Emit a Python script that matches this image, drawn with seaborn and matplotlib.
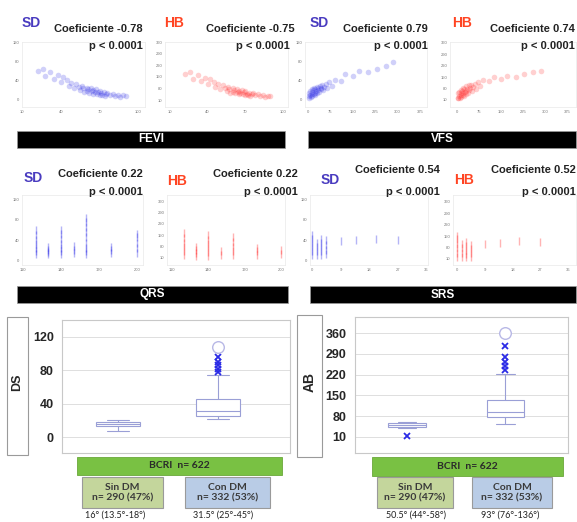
import numpy as np
import pandas as pd
import matplotlib.pyplot as plt
import seaborn as sns
from matplotlib.patches import Rectangle

# --- datos de dispersion (leidos aprox. de la figura) ---
fevi_x = [22, 26, 28, 32, 35, 38, 40, 42, 45, 46, 48, 50, 52, 54, 55, 56, 57, 58, 60, 60,
          61, 62, 63, 64, 65, 65, 66, 67, 68, 69, 70, 70, 71, 72, 73, 74, 75, 76, 78, 80,
          82, 84, 86, 88, 90]
sd_fevi = [60, 66, 50, 58, 44, 52, 38, 48, 42, 30, 36, 26, 34, 28, 20, 30, 24, 16, 26, 18,
           22, 14, 24, 18, 12, 20, 16, 22, 13, 17, 10, 19, 14, 11, 16, 9, 13, 15, 10, 12,
           8, 11, 7, 10, 8]
hb_fevi = [165, 180, 140, 160, 125, 145, 110, 135, 120, 90, 105, 80, 100, 85, 65, 92, 75, 55, 82, 60,
           70, 50, 78, 58, 45, 68, 52, 72, 46, 56, 40, 62, 48, 42, 54, 36, 46, 50, 38, 44,
           32, 40, 30, 36, 32]

vfs_x = [2, 5, 5, 8, 8, 10, 12, 12, 15, 15, 18, 20, 20, 22, 25, 25, 28, 30, 30, 32,
         35, 38, 40, 42, 45, 48, 50, 55, 60, 65, 70, 80, 90, 110, 125, 150, 170, 200, 230, 260, 285]
sd_vfs = [8, 5, 14, 10, 18, 6, 12, 22, 9, 16, 20, 12, 26, 15, 10, 22, 18, 14, 28, 20,
          24, 16, 30, 22, 26, 32, 20, 28, 34, 25, 38, 30, 42, 40, 55, 50, 60, 58, 66, 72, 80]
hb_vfs = [25, 20, 50, 35, 60, 22, 40, 70, 30, 55, 65, 40, 85, 50, 35, 75, 60, 45, 95, 65,
          80, 55, 100, 70, 85, 105, 65, 90, 110, 80, 120, 95, 130, 125, 150, 140, 160, 150, 170, 180, 190]

qrs_sd_x = [120, 120, 120, 120, 120, 120, 120, 130, 130, 130, 130, 140, 140, 140, 140, 140, 140, 140,
            150, 150, 150, 160, 160, 160, 160, 160, 160, 160, 160, 160, 180, 180, 180,
            200, 200, 200, 200, 200]
sd_qrs = [12, 18, 25, 32, 40, 50, 60, 12, 16, 20, 26, 12, 18, 25, 32, 42, 52, 60,
          14, 20, 28, 12, 18, 25, 35, 45, 55, 65, 75, 84, 14, 20, 26,
          15, 25, 35, 45, 52]
qrs_hb_x = [120, 120, 120, 120, 120, 120, 130, 130, 130, 130, 140, 140, 140, 140, 140, 140,
            150, 150, 160, 160, 160, 160, 160, 180, 180, 180, 200, 200]
hb_qrs = [30, 50, 75, 100, 130, 165, 25, 40, 60, 78, 25, 45, 70, 95, 120, 150,
          30, 50, 30, 55, 80, 110, 138, 30, 50, 70, 35, 60]

srs_x = [0, 0, 0, 0, 0, 0, 1.5, 1.5, 1.5, 1.5, 3, 3, 3, 3, 3, 4.5, 4.5, 4.5, 4.5, 9, 14, 20, 27]
sd_srs = [10, 18, 26, 34, 42, 50, 10, 18, 26, 34, 10, 18, 26, 34, 42, 12, 20, 30, 40, 38, 40, 42, 40]
hb_srs = [20, 45, 75, 105, 135, 150, 20, 45, 75, 105, 20, 40, 65, 90, 115, 25, 45, 70, 95, 100, 110, 120, 115]

# --- datos de cajas ---
grupos = ["Sin DM", "Con DM"]
ds_sin_dm = [7, 12, 13.5, 15, 16, 17, 18, 18.5, 20]
ds_con_dm = [22, 22.5, 23, 23.5, 24, 24, 24.5, 25, 25, 26, 27, 28, 29, 30, 30, 31, 31.5,
             33, 34, 36, 38, 40, 42, 44, 45, 60, 74, 78, 82, 86, 90, 96, 108]
ab_sin_dm = [12, 40, 44, 47, 50.5, 54, 58, 60, 62]
ab_con_dm = [55, 58, 62, 65, 68, 70, 72, 74, 76, 78, 80, 83, 85, 88, 90, 92, 93,
             98, 104, 110, 116, 122, 128, 133, 136, 170, 222, 235, 248, 262, 280, 315, 360]
ds_resumen = ["16° (13.5°-18°)", "31.5° (25°-45°)"]
ab_resumen = ["50.5° (44°-58°)", "93° (76°-136°)"]
n_total = 622
n_grupos = ["n= 290 (47%)", "n= 332 (53%)"]

azul = "#2b2be6"
rojo = "#ff2a2a"

sns.set_style("white")
plt.rcParams["font.family"] = ["Liberation Sans", "DejaVu Sans"]

W, H = 577, 522
fig = plt.figure(figsize=(W / 100, H / 100), dpi=100)


def rect(x0, y0, x1, y1):
    return [x0 / W, 1 - y1 / H, (x1 - x0) / W, (y1 - y0) / H]


def txt(x, y, s, **kw):
    fig.text(x / W, 1 - y / H, s, **kw)


def panel(box, x, y, color, xlim, xticks, ylim, yticks, marker="o", size=16):
    ax = fig.add_axes(rect(*box))
    if marker == "o":
        sns.scatterplot(x=x, y=y, ax=ax, color=color, s=size, alpha=0.22, linewidth=0)
    else:
        sns.scatterplot(x=x, y=y, ax=ax, color=color, marker=marker, s=size, alpha=0.35, linewidth=1)
    ax.set_xlim(xlim)
    ax.set_ylim(ylim)
    ax.set_xticks(xticks)
    ax.set_yticks(yticks)
    ax.tick_params(length=0, labelsize=3, colors="#777777", pad=2)
    for s in ax.spines.values():
        s.set_color("#ececec")
        s.set_linewidth(0.6)
    return ax


def etiquetas(tag, tag_xy, coef, coef_xy, p_xy):
    txt(*tag_xy, tag, color="#4a3cc0" if tag == "SD" else "#ff4422", fontsize=10,
        fontweight="bold", ha="center", va="center")
    txt(*coef_xy, coef, fontsize=8, fontweight="bold", ha="right", va="center", color="#222222")
    txt(*p_xy, "p < 0.0001", fontsize=8, fontweight="bold", ha="right", va="center", color="#222222")


def banner(box, s, face="black", tc="white", size=8.5):
    x0, y0, x1, y1 = box
    fig.patches.append(Rectangle((x0 / W, 1 - y1 / H), (x1 - x0) / W, (y1 - y0) / H,
                                 transform=fig.transFigure, facecolor=face, edgecolor="#999999",
                                 linewidth=0.5))
    txt((x0 + x1) / 2, (y0 + y1) / 2, s, color=tc, fontsize=size, fontweight="bold",
        ha="center", va="center")


sd_ticks = [0, 40, 80, 120]
ab_ticks = [10, 80, 150, 220, 290, 360]

# fila 1
panel((22, 42, 145, 107), fevi_x, sd_fevi, azul, (10, 105), [10, 40, 70, 100], (-15, 122), sd_ticks)
panel((165, 42, 288, 107), fevi_x, hb_fevi, rojo, (6, 104), [10, 40, 70, 100], (-32, 362), ab_ticks)
panel((305, 42, 427, 107), vfs_x, sd_vfs, azul, (-10, 398), [0, 75, 150, 225, 300, 375], (-15, 122), sd_ticks)
panel((450, 42, 576, 107), vfs_x, hb_vfs, rojo, (-24, 406), [0, 75, 150, 225, 300, 375], (-33, 366), ab_ticks)
etiquetas("SD", (31, 23), "Coeficiente -0.78", (143, 29), (143, 46))
etiquetas("HB", (174, 23), "Coeficiente -0.75", (295, 29), (290, 46))
etiquetas("SD", (319, 23), "Coeficiente 0.79", (428, 29), (428, 46))
etiquetas("HB", (462, 23), "Coeficiente 0.74", (575, 29), (575, 46))

banner((17, 131, 285, 148), "FEVI")
banner((308, 131, 576, 148), "VFS")

# fila 2
panel((22, 195, 143, 265), qrs_sd_x, sd_qrs, azul, (109, 205), [110, 140, 170, 200], (-10, 130), sd_ticks, "|", 30)
panel((167, 195, 285, 265), qrs_hb_x, hb_qrs, rojo, (106, 203), [110, 140, 170, 200], (-33, 397), ab_ticks, "|", 30)
panel((310, 195, 428, 265), srs_x, sd_srs, azul, (-0.6, 36.5), [0, 9, 18, 27, 36], (-10, 130), sd_ticks, "|", 30)
panel((453, 195, 576, 265), srs_x, hb_srs, rojo, (-1.3, 38.6), [0, 9, 18, 27, 36], (-27, 403), ab_ticks, "|", 30)
etiquetas("SD", (33, 178), "Coeficiente 0.22", (143, 174), (143, 192))
etiquetas("HB", (177, 181), "Coeficiente 0.22", (298, 174), (298, 192))
etiquetas("SD", (330, 180), "Coeficiente 0.54", (440, 170), (440, 192))
etiquetas("HB", (464, 180), "Coeficiente 0.52", (576, 170), (576, 192))

banner((17, 286, 288, 303), "QRS")
banner((310, 286, 576, 303), "SRS")


# cajas
def cajas(box, lab_box, label, sin, con, ylim, yticks, xlim, width, lab_size):
    ax = fig.add_axes(rect(*box))
    df = pd.DataFrame({"grupo": [grupos[0]] * len(sin) + [grupos[1]] * len(con),
                       "valor": sin + con})
    sns.boxplot(data=df, x="grupo", y="valor", order=grupos, ax=ax, color="white",
                linecolor="#9a9fd6", linewidth=0.8, width=width,
                flierprops=dict(marker="x", markeredgecolor=azul, markersize=4,
                                markeredgewidth=1.3))
    ax.scatter([1], [max(con)], s=70, facecolors="white", edgecolors="#b8b8e6",
               linewidths=1, zorder=5)
    ax.set_xlim(xlim)
    ax.set_ylim(ylim)
    ax.set_yticks(yticks)
    ax.set_xticks([])
    ax.set_xlabel("")
    ax.set_ylabel("")
    ax.yaxis.grid(True, color="#dedede", linewidth=0.7)
    ax.set_axisbelow(True)
    ax.tick_params(axis="y", length=0, labelsize=9, pad=6)
    for t in ax.get_yticklabels():
        t.set_fontweight("bold")
    for s in ax.spines.values():
        s.set_color("#c8c8c8")
        s.set_linewidth(0.8)
    x0, y0, x1, y1 = lab_box
    fig.patches.append(Rectangle((x0 / W, 1 - y1 / H), (x1 - x0) / W, (y1 - y0) / H,
                                 transform=fig.transFigure, facecolor="white",
                                 edgecolor="#9a9a9a", linewidth=0.8))
    txt((x0 + x1) / 2, (y0 + y1) / 2 - 4, label, rotation=90, fontsize=lab_size,
        fontweight="bold", ha="center", va="center")


cajas((62, 320, 290, 453), (7, 317, 28, 455), "DS", ds_sin_dm, ds_con_dm,
      (-19, 140), [0, 40, 80, 120], (-0.56, 1.72), 0.44, 9)
cajas((355, 317, 568, 453), (297, 315, 322, 457), "AB", ab_sin_dm, ab_con_dm,
      (-44, 414), [10, 80, 150, 220, 290, 360], (-0.53, 1.64), 0.38, 10)


def pie(green_box, sin_box, con_box, resumen, centers):
    x0, y0, x1, y1 = green_box
    fig.patches.append(Rectangle((x0 / W, 1 - y1 / H), (x1 - x0) / W, (y1 - y0) / H,
                                 transform=fig.transFigure, facecolor="#79c143",
                                 edgecolor="#6aa83a", linewidth=0.6))
    txt((x0 + x1) / 2, (y0 + y1) / 2, f"BCRI  n= {n_total}", fontsize=7.5, fontweight="bold",
        ha="center", va="center", color="#2a2a2a", family=["Lato", "DejaVu Sans"])
    for b, face, nombre, n in [(sin_box, "#c4d69c", grupos[0], n_grupos[0]),
                                (con_box, "#b9cce6", grupos[1], n_grupos[1])]:
        x0, y0, x1, y1 = b
        fig.patches.append(Rectangle((x0 / W, 1 - y1 / H), (x1 - x0) / W, (y1 - y0) / H,
                                     transform=fig.transFigure, facecolor=face,
                                     edgecolor="#9a9a9a", linewidth=0.8))
        txt((x0 + x1) / 2, (y0 + y1) / 2, f"{nombre}\n{n}", fontsize=7.5, fontweight="bold",
            ha="center", va="center", color="#3a3a3a", linespacing=1.25,
            family=["Lato", "DejaVu Sans"])
    for c, s in zip(centers, resumen):
        txt(c, 515, s, fontsize=6.5, ha="center", va="center", color="#222222",
            family=["Lato", "DejaVu Sans"])


pie((77, 457, 282, 475), (82, 477, 163, 508), (185, 477, 270, 508), ds_resumen, (115, 223))
pie((372, 457, 563, 476), (377, 477, 453, 508), (472, 477, 552, 508), ab_resumen, (416, 510))

fig.savefig("out.png", dpi=100)
